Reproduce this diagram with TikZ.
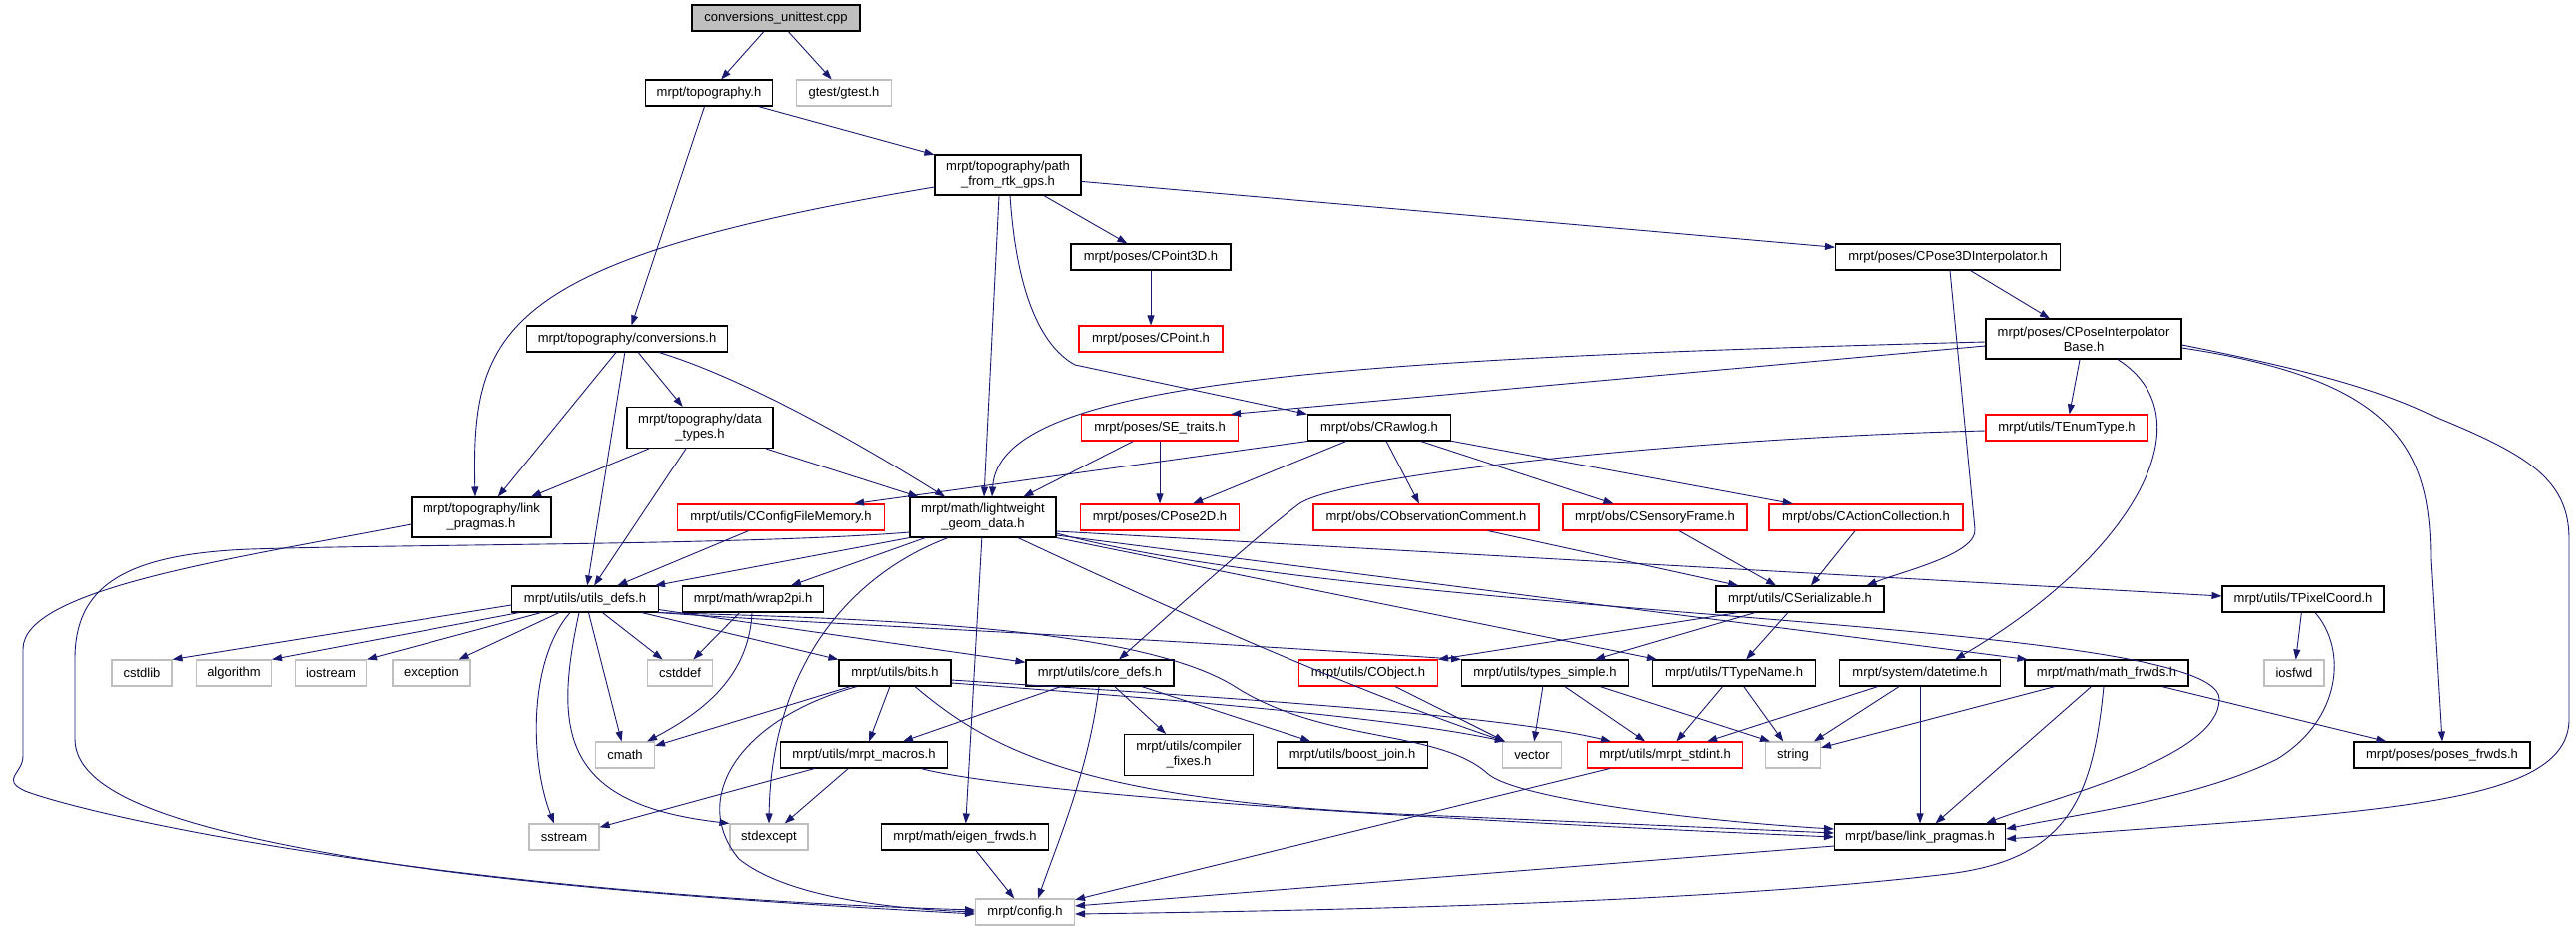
\documentclass[tikz,border=0pt]{standalone}
\usepackage{fontspec}
\setmainfont{Liberation Sans}
\usetikzlibrary{arrows.meta}
\definecolor{edgec}{HTML}{191970}
\definecolor{greyb}{HTML}{BFBFBF}
\definecolor{redb}{HTML}{FF0000}
\tikzset{
  boxn/.style={draw=black, line width=1.1pt, fill=white, minimum height=26pt, inner sep=0pt, align=center, font=\fontsize{13}{15}\selectfont},
  boxg/.style={boxn, draw=greyb},
  boxr/.style={boxn, draw=redb},
  arr/.style={draw=edgec, line width=0.9pt, -{Triangle[length=10pt,width=7pt]}},
}
\begin{document}
\begin{tikzpicture}[x=1pt,y=-1pt]
\useasboundingbox (0,0) rectangle (2579,932);
\fill[white] (0,0) rectangle (2579,932);
% nodes
\node[boxn, fill=greyb, minimum width=168pt] (n0) at (777,18) {conversions\_unittest.cpp};
\node[boxn, minimum width=127pt] (topo) at (710,93) {mrpt/topography.h};
\node[boxg, minimum width=95pt] (gtest) at (845,93) {gtest/gtest.h};
\node[boxn, minimum width=146pt, minimum height=40pt] (rtk) at (1009,175) {mrpt/topography/path\\\_from\_rtk\_gps.h};
\node[boxn, minimum width=160pt] (cpoint3d) at (1152,257) {mrpt/poses/CPoint3D.h};
\node[boxn, minimum width=225pt] (cpose3di) at (1950,257) {mrpt/poses/CPose3DInterpolator.h};
\node[boxr, minimum width=144pt] (cpoint) at (1152,339) {mrpt/poses/CPoint.h};
\node[boxn, minimum width=201pt] (conv) at (628,339) {mrpt/topography/conversions.h};
\node[boxn, minimum width=196pt, minimum height=40pt] (cpib) at (2086,339) {mrpt/poses/CPoseInterpolator\\Base.h};
\node[boxr, minimum width=157pt] (setraits) at (1161,428) {mrpt/poses/SE\_traits.h};
\node[boxn, minimum width=143pt] (crawlog) at (1381,428) {mrpt/obs/CRawlog.h};
\node[boxr, minimum width=162pt] (tenum) at (2069,428) {mrpt/utils/TEnumType.h};
\node[boxn, minimum width=146pt, minimum height=41pt] (dtypes) at (701,428) {mrpt/topography/data\\\_types.h};
\node[boxn, minimum width=140pt, minimum height=40pt] (tlink) at (482,518) {mrpt/topography/link\\\_pragmas.h};
\node[boxr, minimum width=207pt] (ccfm) at (782,518) {mrpt/utils/CConfigFileMemory.h};
\node[boxn, minimum width=146pt, minimum height=40pt] (lwg) at (984,518) {mrpt/math/lightweight\\\_geom\_data.h};
\node[boxr, minimum width=159pt] (cpose2d) at (1161,518) {mrpt/poses/CPose2D.h};
\node[boxr, minimum width=226pt] (cobscom) at (1428,518) {mrpt/obs/CObservationComment.h};
\node[boxr, minimum width=184pt] (csf) at (1657,518) {mrpt/obs/CSensoryFrame.h};
\node[boxr, minimum width=194pt] (cac) at (1868,518) {mrpt/obs/CActionCollection.h};
\node[boxn, minimum width=147pt] (udefs) at (586,600) {mrpt/utils/utils\_defs.h};
\node[boxn, minimum width=141pt] (wrap) at (754,600) {mrpt/math/wrap2pi.h};
\node[boxn, minimum width=168pt] (cser) at (1802,600) {mrpt/utils/CSerializable.h};
\node[boxn, minimum width=162pt] (tpix) at (2306,600) {mrpt/utils/TPixelCoord.h};
\node[boxg, minimum width=60pt] (cstdlib) at (142,674) {cstdlib};
\node[boxg, minimum width=75pt] (algorithm) at (234,674) {algorithm};
\node[boxg, minimum width=71pt] (iostream) at (331,674) {iostream};
\node[boxg, minimum width=78pt] (exception) at (432,674) {exception};
\node[boxg, minimum width=65pt] (cstddef) at (681,674) {cstddef};
\node[boxn, minimum width=112pt] (bits) at (896,674) {mrpt/utils/bits.h};
\node[boxn, minimum width=148pt] (coredefs) at (1101,674) {mrpt/utils/core\_defs.h};
\node[boxr, minimum width=139pt] (cobject) at (1370,674) {mrpt/utils/CObject.h};
\node[boxn, minimum width=167pt] (tsimple) at (1547,674) {mrpt/utils/types\_simple.h};
\node[boxn, minimum width=163pt] (ttype) at (1736,674) {mrpt/utils/TTypeName.h};
\node[boxn, minimum width=161pt] (datetime) at (1922,674) {mrpt/system/datetime.h};
\node[boxn, minimum width=164pt] (mathfr) at (2109,674) {mrpt/math/math\_frwds.h};
\node[boxg, minimum width=60pt] (iosfwd) at (2297,674) {iosfwd};
\node[boxg, minimum width=59pt] (cmath) at (626,756) {cmath};
\node[boxn, minimum width=167pt] (macros) at (865,756) {mrpt/utils/mrpt\_macros.h};
\node[boxn, minimum width=129pt, minimum height=41pt] (cfix) at (1190,756) {mrpt/utils/compiler\\\_fixes.h};
\node[boxn, minimum width=151pt] (bjoin) at (1354,756) {mrpt/utils/boost\_join.h};
\node[boxg, minimum width=59pt] (vector) at (1534,756) {vector};
\node[boxr, minimum width=155pt] (stdint) at (1667,756) {mrpt/utils/mrpt\_stdint.h};
\node[boxg, minimum width=55pt] (string) at (1795,756) {string};
\node[boxn, minimum width=176pt] (posesfr) at (2445,756) {mrpt/poses/poses\_frwds.h};
\node[boxg, minimum width=70pt] (sstream) at (565,838) {sstream};
\node[boxg, minimum width=78pt] (stdexcept) at (770,838) {stdexcept};
\node[boxn, minimum width=167pt] (eigen) at (966,838) {mrpt/math/eigen\_frwds.h};
\node[boxn, minimum width=171pt] (blink) at (1922,838) {mrpt/base/link\_pragmas.h};
\node[boxg, minimum width=99pt] (config) at (1026,913) {mrpt/config.h};
% edges
\draw[arr] (n0) -- (topo);
\draw[arr] (n0) -- (gtest);
\draw[arr] (topo) -- (rtk);
\draw[arr] (topo) -- (conv);
\draw[arr] (rtk) -- (cpoint3d);
\draw[arr] (rtk) -- (cpose3di);
\draw[arr] ([yshift=-12pt]rtk.west) .. controls (500,260) and (472,330) .. ([xshift=-6pt]tlink.north);
\draw[arr] ([xshift=-9pt]rtk.south) -- ([xshift=1pt]lwg.north);
\draw[arr] ([xshift=2pt]rtk.south) .. controls (1018,300) and (1045,348) .. (1076,365) -- (crawlog.north west);
\draw[arr] (cpoint3d) -- (cpoint);
\draw[arr] (cpose3di) -- (cpib);
\draw[arr] ([xshift=2pt]cpose3di.south) -- (1977,530) .. controls (1979,555) and (1905,572) .. ([xshift=-18pt]cser.north east);
\draw[arr] ([yshift=-3pt]cpib.west) .. controls (1300,360) and (1000,385) .. ([xshift=9pt]lwg.north);
\draw[arr] ([yshift=-7pt]cpib.west) -- ([xshift=-8pt]setraits.north east);
\draw[arr] (cpib) -- (tenum);
\draw[arr] ([xshift=34pt]cpib.south) .. controls (2215,420) and (2130,560) .. ([xshift=35pt]datetime.north);
\draw[arr] ([yshift=-9pt]cpib.east) .. controls (2400,380) and (2434,450) .. (2434,560) -- (posesfr.north);
\draw[arr] ([yshift=-6pt]cpib.east) .. controls (2300,368) and (2380,388) .. (2440,418) .. controls (2530,455) and (2572,480) .. (2572,540) -- (2572,720) .. controls (2572,790) and (2450,808) .. (2200,826) -- ([yshift=-2pt]blink.east);
\draw[arr] (conv) -- (tlink);
\draw[arr] (conv) -- (udefs);
\draw[arr] (conv) -- (dtypes);
\draw[arr] ([xshift=32pt]conv.south) .. controls (750,380) and (870,450) .. ([xshift=-38pt]lwg.north);
\draw[arr] (dtypes) -- (tlink);
\draw[arr] (dtypes) -- (udefs);
\draw[arr] (dtypes) -- (lwg);
\draw[arr] ([yshift=-7pt]tlink.west) .. controls (230,560) and (23,590) .. (23,650) -- (23,757) .. controls (23,775) and (0,780) .. (25,792) .. controls (100,820) and (450,895) .. ([yshift=2pt]config.west);
\draw[arr] (setraits) -- (lwg);
\draw[arr] (setraits) -- (cpose2d);
\draw[arr] (crawlog.south west) -- ([xshift=-31pt]ccfm.north east);
\draw[arr] (crawlog) -- (cpose2d);
\draw[arr] (crawlog) -- (cobscom);
\draw[arr] (crawlog) -- (csf);
\draw[arr] (crawlog) -- (cac);
\draw[arr] ([yshift=-3pt]tenum.west) .. controls (1700,438) and (1340,475) .. (1300,505) .. controls (1260,535) and (1160,625) .. ([xshift=19pt]coredefs.north);
\draw[arr] (ccfm) -- (udefs);
\draw[arr] (lwg.south west) -- ([xshift=-4pt]udefs.north east);
\draw[arr] (lwg) -- (wrap);
\draw[arr] ([yshift=-15pt]lwg.west) .. controls (750,546) and (400,545) .. (250,550) .. controls (120,555) and (75,590) .. (75,660) -- (75,740) .. controls (75,800) and (200,835) .. (400,866) .. controls (600,895) and (850,908) .. ([yshift=-2pt]config.west);
\draw[arr] ([xshift=-35pt]lwg.south) .. controls (840,580) and (772,680) .. (stdexcept.north);
\draw[arr] (lwg) -- (eigen);
\draw[arr] ([xshift=35pt]lwg.south) .. controls (1150,600) and (1350,690) .. ([xshift=3pt]vector.north west);
\draw[arr] ([yshift=-14pt]lwg.east) -- ([yshift=3pt]tpix.west);
\draw[arr] ([yshift=-18pt]lwg.east) -- ([xshift=3pt]mathfr.north west);
\draw[arr] (lwg.south east) -- ([xshift=5pt]ttype.north west);
\draw[arr] ([yshift=-16pt]lwg.east) .. controls (1380,620) and (2222,620) .. (2222,700) .. controls (2222,760) and (2050,800) .. ([xshift=-20pt]blink.north east);
\draw[arr] ([yshift=-6pt]udefs.west) -- (cstdlib.north east);
\draw[arr] ([xshift=-66pt]udefs.south) -- (algorithm.north east);
\draw[arr] ([xshift=-44pt]udefs.south) -- (iostream.north east);
\draw[arr] ([xshift=-26pt]udefs.south) -- ([xshift=-12pt]exception.north east);
\draw[arr] ([xshift=-15pt]udefs.south) .. controls (530,660) and (530,760) .. ([xshift=-10pt]sstream.north);
\draw[arr] ([xshift=-6pt]udefs.south) .. controls (555,730) and (560,805) .. (stdexcept.north west);
\draw[arr] (udefs) -- (cmath);
\draw[arr] (udefs) -- (cstddef);
\draw[arr] (udefs) -- (bits);
\draw[arr] (udefs) -- (coredefs);
\draw[arr] (udefs.south east) .. controls (800,624) and (1100,636) .. (tsimple.north west);
\draw[arr] ([xshift=-2pt]udefs.south east) .. controls (900,620) and (1150,630) .. (1240,690) .. controls (1330,745) and (1440,730) .. (1490,775) .. controls (1520,800) and (1700,822) .. ([yshift=8pt]blink.west);
\draw[arr] (wrap) -- (cstddef);
\draw[arr] ([xshift=-1pt]wrap.south) .. controls (750,680) and (700,715) .. ([xshift=-8pt]cmath.north east);
\draw[arr] (bits) -- (cmath);
\draw[arr] ([xshift=-38pt]bits.south) .. controls (740,720) and (690,800) .. (740,860) .. controls (790,900) and (900,910) .. (config.west);
\draw[arr] (bits) -- (macros);
\draw[arr] ([xshift=20pt]bits.south) .. controls (990,750) and (1080,800) .. (1400,815) -- ([yshift=4pt]blink.west);
\draw[arr] ([yshift=-7pt]bits.east) .. controls (1200,697) and (1500,715) .. ([xshift=24pt]stdint.north west);
\draw[arr] ([yshift=-10pt]bits.east) .. controls (1200,702) and (1400,720) .. ([xshift=3pt]vector.north west);
\draw[arr] (coredefs) -- (macros);
\draw[arr] (coredefs) -- (cfix);
\draw[arr] (coredefs) -- (bjoin);
\draw[arr] ([xshift=-1pt]coredefs.south) .. controls (1090,770) and (1060,840) .. ([xshift=13pt]config.north);
\draw[arr] (eigen) -- (config);
\draw[arr] (macros) -- (sstream);
\draw[arr] (macros) -- (stdexcept);
\draw[arr] ([xshift=57pt]macros.south) .. controls (1000,790) and (1300,815) .. (blink.west);
\draw[arr] (cobject) -- (vector);
\draw[arr] (tsimple) -- (vector);
\draw[arr] (tsimple) -- (stdint);
\draw[arr] ([xshift=55pt]tsimple.south) -- ([xshift=5pt]string.north west);
\draw[arr] (ttype) -- (stdint);
\draw[arr] (ttype) -- (string);
\draw[arr] (datetime) -- (stdint);
\draw[arr] (datetime) -- (string);
\draw[arr] (datetime) -- (blink);
\draw[arr] (mathfr) -- (string);
\draw[arr] (mathfr) -- (blink);
\draw[arr] (mathfr) -- (posesfr);
\draw[arr] ([xshift=-3pt]mathfr.south) .. controls (2095,800) and (2070,860) .. (1950,875) .. controls (1700,905) and (1300,912) .. ([yshift=-2pt]config.east);
\draw[arr] ([yshift=-9pt]blink.west) -- ([yshift=6pt]config.east);
\draw[arr] (stdint) -- (config);
\draw[arr] (tpix) -- (iosfwd);
\draw[arr] ([xshift=12pt]tpix.south) .. controls (2350,650) and (2345,720) .. (2280,760) .. controls (2200,800) and (2080,815) .. ([yshift=8pt]blink.east);
\draw[arr] (cobscom) -- (cser);
\draw[arr] (csf) -- (cser);
\draw[arr] (cac) -- (cser);
\draw[arr] ([xshift=-62pt]cser.south) -- (cobject.north east);
\draw[arr] ([xshift=-45pt]cser.south) -- ([xshift=50pt]tsimple.north);
\draw[arr] (cser) -- (ttype);
\end{tikzpicture}
\end{document}
